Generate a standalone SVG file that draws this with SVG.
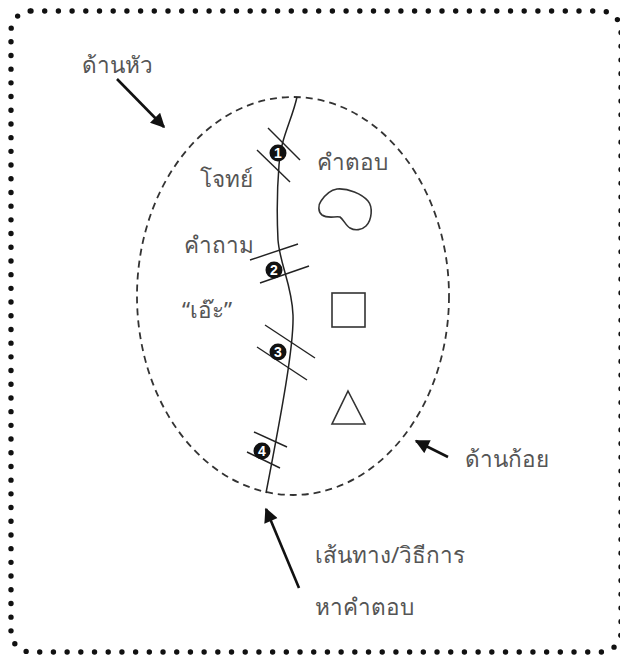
<svg xmlns="http://www.w3.org/2000/svg" width="620" height="656" viewBox="0 0 620 656">
<defs>
<style>
.lbl{font-family:"Noto Sans","DejaVu Sans",sans-serif;font-size:22.5px;fill:#555}
.num{font-family:"Liberation Sans",Arial,sans-serif;font-size:14px;font-weight:bold;fill:#fff;text-anchor:middle}
.tick{stroke:#222;stroke-width:1.4;fill:none}
.arrow{stroke:#111;stroke-width:2.6;fill:none;marker-end:url(#ah)}
.shape{stroke:#333;stroke-width:1.6;fill:none}
</style>
<marker id="ah" viewBox="0 0 10 10" refX="9" refY="5" markerWidth="6" markerHeight="5.5" markerUnits="strokeWidth" orient="auto">
<path d="M0,0 L10,5 L0,10 z" fill="#111"/>
</marker>
</defs>
<rect width="620" height="656" fill="#fff"/>
<rect id="frame" x="11" y="11" width="610" height="641" rx="20" ry="20" fill="none" stroke="#111" stroke-width="5.4" stroke-linecap="round" stroke-dasharray="0 13.7"/>
<g id="region">
<ellipse cx="293" cy="296" rx="156" ry="199" fill="none" stroke="#333" stroke-width="1.8" stroke-dasharray="7 5"/>
</g>
<g id="path-line">
<path d="M297,97 C292,120 280,140 279,165 C277,190 277,220 278,240 C280,265 292,285 293,315 C294,345 282,410 266,493" fill="none" stroke="#222" stroke-width="1.5"/>
</g>
<g id="step1">
<line class="tick" x1="268" y1="128" x2="300" y2="160"/>
<line class="tick" x1="257" y1="150" x2="290" y2="182"/>
<circle cx="278" cy="153" r="8.5" fill="#111"/>
<text class="num" x="278" y="158">1</text>
</g>
<g id="step2">
<line class="tick" x1="250" y1="260" x2="298" y2="244"/>
<line class="tick" x1="260" y1="283" x2="309" y2="266"/>
<circle cx="274" cy="270" r="8.5" fill="#111"/>
<text class="num" x="274" y="275">2</text>
</g>
<g id="step3">
<line class="tick" x1="265" y1="325" x2="315" y2="358"/>
<line class="tick" x1="257" y1="347" x2="307" y2="380"/>
<circle cx="278" cy="352" r="8.5" fill="#111"/>
<text class="num" x="278" y="357">3</text>
</g>
<g id="step4">
<line class="tick" x1="254" y1="432" x2="287" y2="447"/>
<line class="tick" x1="247" y1="452" x2="280" y2="468"/>
<circle cx="262" cy="451" r="8.5" fill="#111"/>
<text class="num" x="262" y="456">4</text>
</g>
<g id="blob">
<path class="shape" d="M337,189 C348,188 362,194 368,201 C373,207 372,220 366,226 C362,230 355,231 350,228 C346,226 344,220 340,217 C335,216 328,219 322,215 C318,212 318,205 321,201 C325,195 331,190 337,189 Z"/>
</g>
<g id="square"><rect class="shape" x="332" y="293" width="33" height="34"/></g>
<g id="triangle"><path class="shape" d="M348,391 L365,424 L332,424 Z"/></g>
<g id="connectors">
<line class="arrow" x1="117" y1="79" x2="164" y2="127"/>
<line class="arrow" x1="448" y1="457" x2="416" y2="441"/>
<line class="arrow" x1="299" y1="588" x2="266" y2="509"/>
</g>
<g id="label-head"><text class="lbl" x="82" y="73">ด้านหัว</text></g>
<g id="label-problem"><text class="lbl" x="200" y="187">โจทย์</text></g>
<g id="label-answer"><text class="lbl" x="317" y="170">คำตอบ</text></g>
<g id="label-question"><text class="lbl" x="184" y="253">คำถาม</text></g>
<g id="label-eh"><text class="lbl" x="182" y="318">“เอ๊ะ”</text></g>
<g id="label-tail"><text class="lbl" x="465" y="467">ด้านก้อย</text></g>
<g id="label-method"><text class="lbl" x="315" y="563">เส้นทาง/วิธีการ</text><text class="lbl" x="315" y="615">หาคำตอบ</text></g>
</svg>
